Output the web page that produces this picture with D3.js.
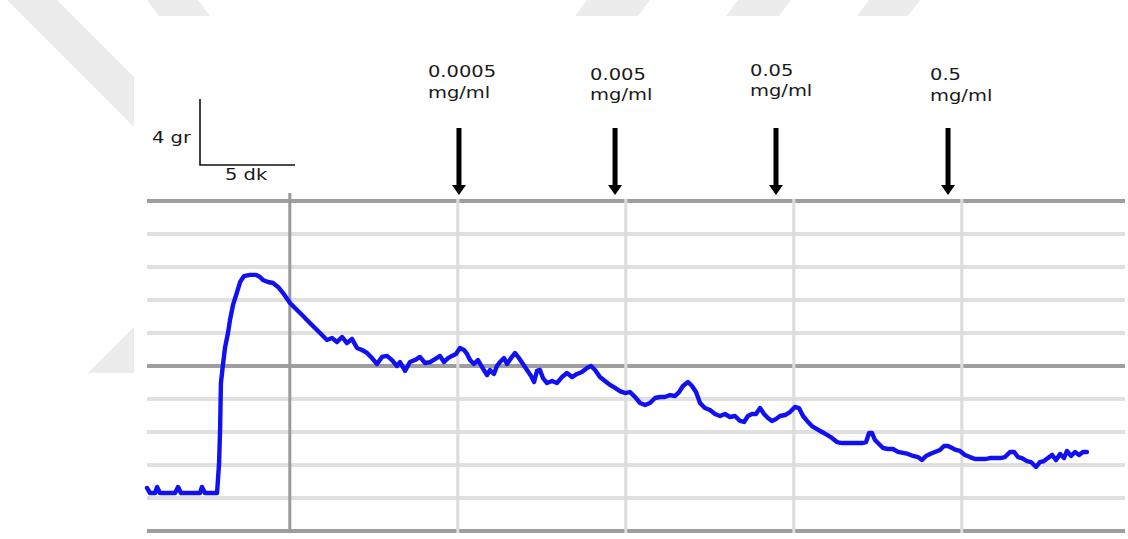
<!DOCTYPE html>
<html>
<head>
<meta charset="utf-8">
<script src="https://cdn.jsdelivr.net/npm/d3@7/dist/d3.min.js"></script>
<style>
  html, body { margin: 0; padding: 0; background: #fff; }
  svg { display: block; }
</style>
</head>
<body>
<svg id="chart" width="1128" height="539"></svg>
<script>
// Isometric tension recording: time (dk) and tension (gr)
const timeMin = [
  0, 0.18, 0.48, 0.60, 0.77, 1.67, 1.85, 2.02, 3.15, 3.27, 3.45, 4.17, 4.23, 4.29, 4.35, 4.40,
  4.52, 4.64, 4.82, 4.94, 5.12, 5.36, 5.54, 5.77, 6.13, 6.49, 6.73, 6.90, 7.20, 7.50, 7.80, 8.10,
  8.51, 8.93, 9.29, 9.52, 9.88, 10.30, 10.71, 11.01, 11.31, 11.61, 11.90, 12.20, 12.50, 12.80, 13.10, 13.39,
  13.69, 13.99, 14.29, 14.58, 14.88, 15.06, 15.36, 15.65, 15.95, 16.25, 16.55, 16.85, 17.14, 17.44, 17.68, 17.92,
  18.15, 18.39, 18.63, 18.87, 19.05, 19.23, 19.46, 19.70, 19.94, 20.24, 20.42, 20.65, 20.83, 21.01, 21.25, 21.43,
  21.67, 21.90, 22.14, 22.38, 22.62, 22.86, 23.04, 23.21, 23.39, 23.57, 23.81, 24.11, 24.40, 24.70, 25.00, 25.30,
  25.60, 25.89, 26.19, 26.43, 26.67, 26.96, 27.26, 27.56, 27.86, 28.15, 28.45, 28.75, 29.05, 29.35, 29.64, 29.94,
  30.24, 30.54, 30.83, 31.13, 31.43, 31.67, 31.90, 32.20, 32.44, 32.68, 32.92, 33.21, 33.51, 33.81, 34.11, 34.40,
  34.70, 35.00, 35.30, 35.54, 35.77, 36.01, 36.25, 36.49, 36.73, 36.96, 37.20, 37.44, 37.68, 37.98, 38.27, 38.57,
  38.81, 39.05, 39.29, 39.58, 39.88, 40.18, 40.48, 40.77, 41.07, 41.37, 41.67, 41.96, 42.26, 42.56, 42.80, 42.98,
  43.15, 43.33, 43.57, 43.81, 44.11, 44.40, 44.70, 45.00, 45.30, 45.60, 45.89, 46.13, 46.37, 46.61, 46.90, 47.20,
  47.44, 47.68, 47.92, 48.15, 48.39, 48.69, 48.99, 49.29, 49.58, 49.88, 50.18, 50.48, 50.77, 51.07, 51.37, 51.61,
  51.85, 52.08, 52.38, 52.62, 52.92, 53.15, 53.39, 53.63, 53.87, 54.11, 54.35, 54.58, 54.76, 55.00, 55.24, 55.48,
  55.71, 55.95
];
const tensionGr = [
  2.61, 2.30, 2.30, 2.67, 2.30, 2.30, 2.67, 2.30, 2.30, 2.67, 2.30, 2.30, 3.21, 4.12, 6.12, 8.97,
  10.06, 11.09, 12.00, 12.79, 13.70, 14.48, 15.09, 15.45, 15.52, 15.52, 15.39, 15.21, 15.09, 15.03, 14.79, 14.42,
  13.82, 13.39, 13.03, 12.79, 12.42, 12.00, 11.58, 11.70, 11.45, 11.76, 11.39, 11.64, 11.09, 10.97, 10.79, 10.48,
  10.12, 10.55, 10.61, 10.36, 10.00, 10.24, 9.70, 10.24, 10.36, 10.55, 10.18, 10.24, 10.42, 10.61, 10.24, 10.48,
  10.61, 10.73, 11.09, 10.97, 10.73, 10.36, 10.12, 10.36, 9.94, 9.45, 9.76, 9.52, 10.00, 10.24, 10.48, 10.12,
  10.48, 10.79, 10.48, 10.12, 9.76, 9.39, 9.03, 9.70, 9.76, 9.27, 8.97, 9.09, 8.97, 9.33, 9.58, 9.33,
  9.52, 9.64, 9.88, 10.00, 9.76, 9.33, 9.09, 8.85, 8.67, 8.48, 8.36, 8.42, 8.12, 7.76, 7.64, 7.76,
  8.06, 8.12, 8.12, 8.24, 8.18, 8.42, 8.79, 9.03, 8.79, 8.42, 7.76, 7.45, 7.33, 7.09, 6.97, 7.09,
  6.91, 6.97, 6.67, 6.61, 6.97, 7.09, 7.09, 7.45, 7.09, 6.85, 6.67, 6.79, 6.97, 7.03, 7.21, 7.52,
  7.45, 6.97, 6.67, 6.36, 6.18, 6.00, 5.82, 5.64, 5.39, 5.33, 5.33, 5.33, 5.33, 5.33, 5.39, 5.94,
  5.94, 5.52, 5.27, 5.03, 4.97, 4.97, 4.79, 4.73, 4.67, 4.55, 4.48, 4.30, 4.55, 4.67, 4.79, 4.91,
  5.15, 5.15, 5.03, 4.91, 4.85, 4.61, 4.48, 4.36, 4.36, 4.36, 4.42, 4.42, 4.42, 4.48, 4.79, 4.79,
  4.48, 4.42, 4.24, 4.18, 3.88, 4.18, 4.24, 4.42, 4.61, 4.30, 4.67, 4.42, 4.85, 4.55, 4.79, 4.61,
  4.79, 4.79
];

// Cumulative drug additions
const doseTimes = [18.57, 27.86, 37.44, 47.68];
const doseLabels = ["0.0005", "0.005", "0.05", "0.5"];
const doseUnit = "mg/ml";

// Chart-paper grid
const gridTension = [0, 2, 4, 6, 8, 10, 12, 14, 16, 18, 20];
const majorTension = [0, 10, 20];
const gridTimes = [8.5, 18.5, 28.5, 38.5, 48.5];
const majorTimes = [8.5];

// Calibration bar
const barTension = 4;
const barTime = 5;
const barLabels = ["4 gr", "5 dk"];

// ---------- layout ----------
const W = 1128, H = 539;
const plotLeft = 147, plotRight = 1125, plotTop = 201, plotBottom = 531;
const pxPerMin = 16.8;
const textStretch = 1.3;
const fontSize = 15;
const labelPos = [
  { dx: -31, y1: 77, y2: 98 },
  { dx: -25, y1: 80, y2: 100 },
  { dx: -26, y1: 76, y2: 96 },
  { dx: -18, y1: 80, y2: 101 }
];

const svg = d3.select("#chart");

const x = d3.scaleLinear()
  .domain([0, (plotRight - plotLeft) / pxPerMin])
  .range([plotLeft, plotRight]);
const y = d3.scaleLinear()
  .domain([0, 20])
  .range([plotBottom, plotTop]);

// faint background emblem
const shade = "#ececec";
const wm = svg.append("g");
[
  [[7, 0], [57, 0], [134, 77], [134, 127]],
  [[88, 373], [134, 327], [134, 373]],
  [[147, 0], [198, 0], [210, 16], [159, 16]],
  [[587, 0], [650, 0], [638, 16], [575, 16]],
  [[738, 0], [791, 0], [779, 16], [726, 16]],
  [[869, 0], [920, 0], [908, 16], [857, 16]]
].forEach(p => wm.append("polygon").attr("points", p.join(" ")).attr("fill", shade));

// recording sheet
svg.append("rect").attr("x", 134).attr("y", 16).attr("width", W - 134).attr("height", H - 16).attr("fill", "#fff");

// horizontal grid lines
svg.append("g").selectAll("line").data(gridTension).join("line")
  .attr("x1", plotLeft).attr("x2", plotRight)
  .attr("y1", d => y(d)).attr("y2", d => y(d))
  .attr("stroke", d => majorTension.includes(d) ? "#9e9e9e" : "#e0e0e0")
  .attr("stroke-width", 4);

// vertical grid lines
svg.append("g").selectAll("line").data(gridTimes).join("line")
  .attr("x1", d => x(d)).attr("x2", d => x(d))
  .attr("y1", d => majorTimes.includes(d) ? plotTop - 8 : plotTop - 2)
  .attr("y2", plotBottom + 2)
  .attr("stroke", d => majorTimes.includes(d) ? "#9a9a9a" : "#dcdcdc")
  .attr("stroke-width", 3);

// tension trace
const line = d3.line().x((d, i) => x(timeMin[i])).y(d => y(d));
svg.append("path")
  .attr("d", line(tensionGr))
  .attr("fill", "none")
  .attr("stroke", "#1010f2")
  .attr("stroke-width", 4.4)
  .attr("stroke-linejoin", "round")
  .attr("stroke-linecap", "round");

// drug addition arrows and labels
const font = "'DejaVu Sans', Verdana, sans-serif";
const arrows = svg.append("g");
doseTimes.forEach((t, i) => {
  const ax = x(t);
  arrows.append("rect")
    .attr("x", ax - 2.5).attr("y", 128).attr("width", 5).attr("height", 58)
    .attr("fill", "#000");
  arrows.append("polygon")
    .attr("points", [[ax - 7, 185], [ax + 7, 185], [ax, 195]].join(" "))
    .attr("fill", "#000");
  const lp = labelPos[i];
  [[doseLabels[i], lp.y1], [doseUnit, lp.y2]].forEach(([txt, ty]) => {
    arrows.append("text")
      .attr("transform", `translate(${ax + lp.dx},${ty}) scale(${textStretch},1)`)
      .attr("font-family", font).attr("font-size", fontSize)
      .attr("fill", "#1a1a1a")
      .text(txt);
  });
});

// calibration bar
const barX = 200, barY = 165;
const bar = svg.append("g");
bar.append("path")
  .attr("d", `M${barX},${barY - (y(0) - y(barTension))} V${barY} H${barX + 95}`)
  .attr("fill", "none").attr("stroke", "#111").attr("stroke-width", 1.6);
bar.append("text")
  .attr("transform", `translate(152,143) scale(${textStretch},1)`)
  .attr("font-family", font).attr("font-size", fontSize).attr("fill", "#1a1a1a")
  .text(barLabels[0]);
bar.append("text")
  .attr("transform", `translate(225,180) scale(${textStretch},1)`)
  .attr("font-family", font).attr("font-size", fontSize).attr("fill", "#1a1a1a")
  .text(barLabels[1]);
</script>
</body>
</html>
